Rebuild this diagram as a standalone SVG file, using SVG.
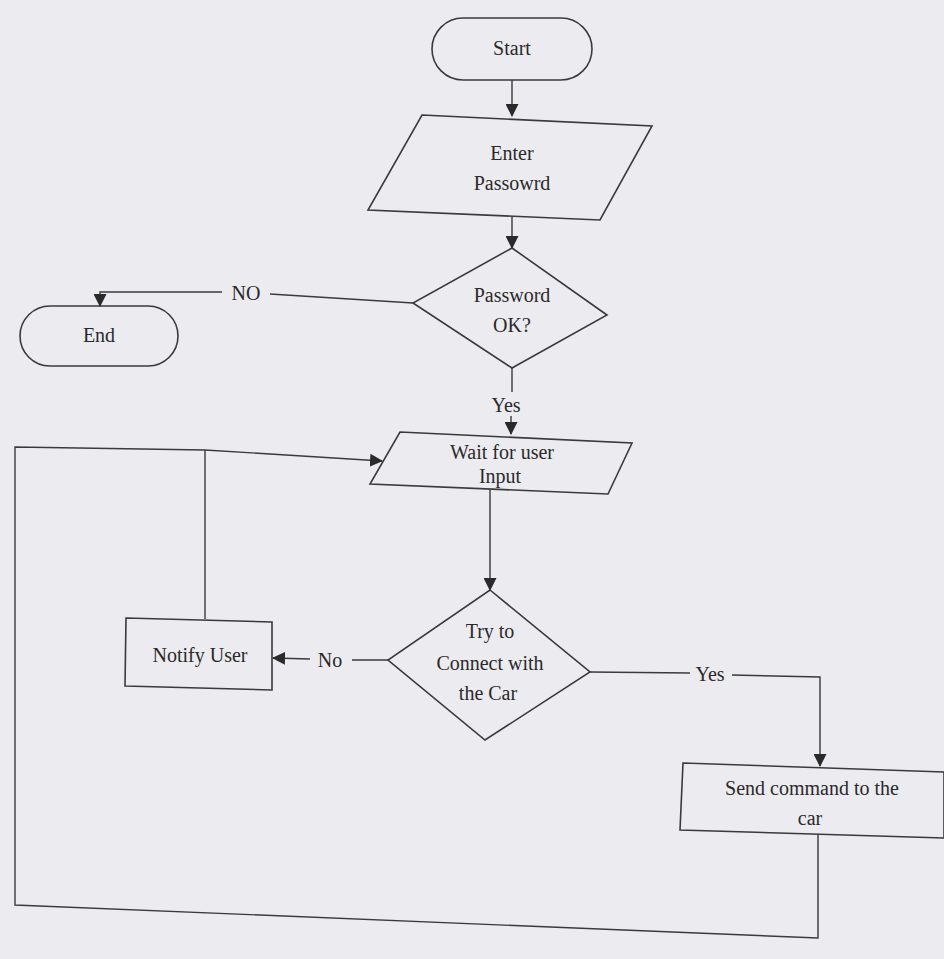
<svg xmlns="http://www.w3.org/2000/svg" width="944" height="959" viewBox="0 0 944 959">
<style>
.s{fill:none;stroke:#3a3a3a;stroke-width:1.6}
.c{fill:none;stroke:#3a3a3a;stroke-width:1.4}
.t{font-family:"Liberation Serif","Times New Roman",serif;font-size:20px;fill:#2a2a2a;text-anchor:middle}
</style>
<defs>
<marker id="a" markerWidth="13" markerHeight="13" refX="12" refY="6.5" orient="auto" markerUnits="userSpaceOnUse">
<path d="M0,0 L13,6.5 L0,13 Z" fill="#2a2a2a"/>
</marker>
</defs>
<rect width="944" height="959" fill="#ecebf0"/>
<g id="start">
<rect class="s" x="432" y="18" width="160" height="62" rx="31"/>
<text class="t" x="512" y="55">Start</text>
</g>
<g id="enter">
<polygon class="s" points="422,115 652,126 600,220 368,210"/>
<text class="t" x="512" y="160">Enter</text>
<text class="t" x="512" y="190">Passowrd</text>
</g>
<g id="pwok">
<polygon class="s" points="512,248 607,315 512,368 413,303"/>
<text class="t" x="512" y="302">Password</text>
<text class="t" x="512" y="332">OK?</text>
</g>
<g id="end">
<rect class="s" x="20" y="306" width="158" height="60" rx="30"/>
<text class="t" x="99" y="342">End</text>
</g>
<g id="wait">
<polygon class="s" points="400,432 632,443 608,494 370,484"/>
<text class="t" x="502" y="459">Wait for user</text>
<text class="t" x="500" y="483">Input</text>
</g>
<g id="connect">
<polygon class="s" points="490,590 590,672 485,740 388,660"/>
<text class="t" x="490" y="638">Try to</text>
<text class="t" x="490" y="670">Connect with</text>
<text class="t" x="488" y="700">the Car</text>
</g>
<g id="notify">
<polygon class="s" points="126,618 272,622 272,690 125,686"/>
<text class="t" x="200" y="662">Notify User</text>
</g>
<g id="send">
<polygon class="s" points="683,763 944,772 944,838 680,830"/>
<text class="t" x="812" y="795">Send command to the</text>
<text class="t" x="810" y="825">car</text>
</g>
<g id="connectors">
<line class="c" x1="512" y1="80" x2="512" y2="116" marker-end="url(#a)"/>
<line class="c" x1="512" y1="216" x2="512" y2="248" marker-end="url(#a)"/>
<polyline class="c" points="413,303 270,294"/>
<polyline class="c" points="222,292 100,292 100,306" marker-end="url(#a)"/>
<text class="t" x="246" y="300">NO</text>
<line class="c" x1="512" y1="368" x2="512" y2="392"/>
<text class="t" x="506" y="412">Yes</text>
<line class="c" x1="511" y1="416" x2="511" y2="434" marker-end="url(#a)"/>
<line class="c" x1="490" y1="490" x2="490" y2="590" marker-end="url(#a)"/>
<line class="c" x1="388" y1="660" x2="352" y2="660"/>
<text class="t" x="330" y="667">No</text>
<line class="c" x1="310" y1="659" x2="273" y2="658" marker-end="url(#a)"/>
<polyline class="c" points="590,672 690,673"/>
<text class="t" x="710" y="681">Yes</text>
<polyline class="c" points="732,675 820,677 820,766" marker-end="url(#a)"/>
<polyline class="c" points="818,834 818,938 15,905 15,447 205,450 382,461" marker-end="url(#a)"/>
<line class="c" x1="205" y1="450" x2="205" y2="619"/>
</g>
</svg>
